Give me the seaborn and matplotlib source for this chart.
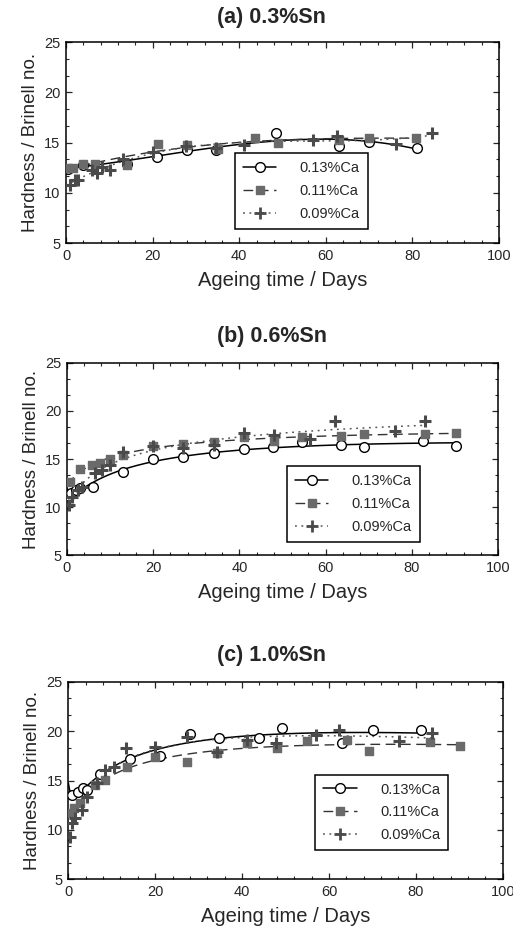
import numpy as np
import pandas as pd
import matplotlib
matplotlib.use("Agg")
import matplotlib.pyplot as plt
from matplotlib.ticker import AutoMinorLocator
import seaborn as sns

# ---- hardness data (Brinell no.) vs ageing time (days) ----
# (a) 0.3% Sn
a_ca13_x = [0.5, 4, 14, 21.1, 28, 34.6, 48.5, 63, 70, 81]
a_ca13_y = [12.4, 12.8, 12.9, 13.6, 14.25, 14.3, 15.9, 14.7, 15.1, 14.5]
a_ca11_x = [0.5, 1.5, 4, 6.7, 14, 21.2, 28, 35, 43.6, 49, 63, 70, 80.8]
a_ca11_y = [12.45, 12.45, 12.85, 12.85, 12.8, 14.85, 14.8, 14.4, 15.5, 15.0, 15.3, 15.5, 15.45]
a_ca09_x = [0.9, 2.1, 2.8, 6, 7.1, 8.2, 10.2, 13.1, 20.1, 27.8, 34.6, 41, 57, 62.5, 76.3, 84.5]
a_ca09_y = [10.8, 11.3, 11.3, 12.3, 11.95, 12.6, 12.3, 13.4, 14.1, 14.7, 14.5, 14.75, 15.3, 15.6, 14.9, 15.9]

# (b) 0.6% Sn
b_ca13_x = [0.5, 1, 2, 3, 6, 13, 19.9, 27, 34, 41, 47.8, 54.5, 63.6, 69, 82.7, 90.2]
b_ca13_y = [11.2, 11.5, 11.8, 12.0, 12.1, 13.6, 15.0, 15.2, 15.6, 16.0, 16.2, 16.8, 16.5, 16.25, 16.85, 16.4]
b_ca11_x = [0.8, 3.1, 5.8, 7.7, 10, 13, 20, 26.9, 34, 41, 48, 54.5, 63.6, 69, 83, 90.2]
b_ca11_y = [12.65, 14.0, 14.4, 14.55, 15.05, 15.4, 16.3, 16.6, 16.8, 17.3, 16.9, 17.3, 17.4, 17.55, 17.55, 17.7]
b_ca09_x = [0.4, 1.2, 2.5, 3.5, 6.6, 8.2, 10, 13.1, 20, 27, 34, 41, 48, 56.4, 62.2, 76.1, 83]
b_ca09_y = [10.2, 11.1, 11.8, 12.1, 13.5, 13.9, 14.4, 15.7, 16.4, 16.1, 16.45, 17.65, 17.5, 17.1, 18.9, 17.95, 18.9]

# (c) 1.0% Sn
c_ca13_x = [0.8, 2.3, 3.3, 4.2, 7.3, 14.2, 21.1, 28, 34.8, 44, 49.1, 62.9, 70.2, 81.1]
c_ca13_y = [13.5, 13.85, 14.25, 14.05, 15.7, 17.2, 17.5, 19.7, 19.35, 19.35, 20.3, 18.75, 20.1, 20.1]
c_ca11_x = [0.4, 1.2, 2.7, 6.1, 8.4, 13.4, 20, 27.4, 34.3, 41.2, 48.1, 54.9, 64.1, 69.3, 83.3, 90.2]
c_ca11_y = [11.7, 12.2, 12.7, 14.55, 15.05, 16.4, 17.4, 16.9, 17.8, 18.75, 18.25, 18.95, 19.1, 18.0, 18.85, 18.5]
c_ca09_x = [0.4, 0.8, 1.5, 3.1, 4.3, 6.5, 8.4, 10.4, 13.3, 20, 27.3, 34.3, 41.2, 47.8, 57, 62.4, 76.2, 83.7]
c_ca09_y = [9.3, 10.7, 11.2, 12.0, 13.3, 14.7, 16.05, 16.4, 18.25, 18.4, 19.4, 17.9, 19.15, 18.75, 19.6, 20.1, 19.05, 19.85]

panel_titles = ["(a) 0.3%Sn", "(b) 0.6%Sn", "(c) 1.0%Sn"]
series_labels = ["0.13%Ca", "0.11%Ca", "0.09%Ca"]
x_ticks = [0, 20, 40, 60, 80, 100]
y_ticks = [5, 10, 15, 20, 25]

panels = [
    [(a_ca13_x, a_ca13_y), (a_ca11_x, a_ca11_y), (a_ca09_x, a_ca09_y)],
    [(b_ca13_x, b_ca13_y), (b_ca11_x, b_ca11_y), (b_ca09_x, b_ca09_y)],
    [(c_ca13_x, c_ca13_y), (c_ca11_x, c_ca11_y), (c_ca09_x, c_ca09_y)],
]

# ---- styling ----
sns.set_style("ticks")
plt.rcParams["font.family"] = ["Liberation Sans", "DejaVu Sans"]

series_style = [
    dict(marker="o", mfc="white", mec="black", ms=7, mew=1.0, lc="black", ls="-", lw=1.1),
    dict(marker="s", mfc="#6a6a6a", mec="#6a6a6a", ms=6, mew=1.0, lc="#333333", ls=(0, (7, 4)), lw=1.0),
    dict(marker="+", mfc="#4a4a4a", mec="#4a4a4a", ms=9, mew=2.2, lc="#555555", ls=(0, (1.2, 3)), lw=1.1),
]

axes_rects = [
    [0.1287, 0.7409, 0.8440, 0.2143],
    [0.1306, 0.4080, 0.8402, 0.2053],
    [0.1332, 0.0626, 0.8467, 0.2106],
]
title_y = [1 - 17 / 938, 1 - 336.7 / 938, 1 - 655 / 938]
legend_anchor = [(0.39, 0.07), (0.51, 0.07), (0.568, 0.148)]
fit_space = ["lin", "log", "log"]

fig = plt.figure(figsize=(5.13, 9.38), dpi=100)


def smooth_fit(x, y, space):
    x = np.asarray(x, float)
    y = np.asarray(y, float)
    if space == "lin":
        coef = np.polyfit(x, y, 3)
        xs = np.linspace(0, x.max(), 200)
        return xs, np.polyval(coef, xs)
    u = np.log1p(x)
    coef = np.polyfit(u, y, 3)
    xs = np.linspace(0, x.max(), 300)
    return xs, np.polyval(coef, np.log1p(xs))


for i, (rect, data) in enumerate(zip(axes_rects, panels)):
    ax = fig.add_axes(rect)
    handles = []
    for (x, y), label, st in zip(data, series_labels, series_style):
        xs, ys = smooth_fit(x, y, fit_space[i])
        fit_df = pd.DataFrame({"x": xs, "y": ys})
        sns.lineplot(data=fit_df, x="x", y="y", ax=ax, color=st["lc"],
                     linewidth=st["lw"], linestyle=st["ls"], zorder=2)
        pts = pd.DataFrame({"x": x, "y": y})
        if st["marker"] == "+":
            sns.scatterplot(data=pts, x="x", y="y", ax=ax, marker="+",
                            s=st["ms"] ** 2, color=st["mec"],
                            linewidth=st["mew"], zorder=3)
        else:
            sns.scatterplot(data=pts, x="x", y="y", ax=ax, marker=st["marker"],
                            s=st["ms"] ** 2, facecolor=st["mfc"],
                            edgecolor=st["mec"], linewidth=st["mew"], zorder=3)
        h, = ax.plot([], [], color=st["lc"], linestyle=st["ls"], lw=st["lw"],
                     marker=st["marker"], ms=st["ms"], mfc=st["mfc"],
                     mec=st["mec"], mew=st["mew"] if st["marker"] != "+" else 2.0)
        handles.append(h)

    ax.set_xlim(0, 100)
    ax.set_ylim(5, 25)
    ax.set_xticks(x_ticks)
    ax.set_yticks(y_ticks)
    ax.xaxis.set_minor_locator(AutoMinorLocator(5))
    ax.yaxis.set_minor_locator(AutoMinorLocator(3))
    ax.tick_params(which="both", direction="in", top=True, right=True,
                   labelsize=10.5, pad=4)
    ax.tick_params(which="major", length=4, width=0.9)
    ax.tick_params(which="minor", length=2.5, width=0.8)
    for sp in ax.spines.values():
        sp.set_linewidth(1.1)
        sp.set_color("black")
    ax.set_xlabel("Ageing time / Days", fontsize=14.5, labelpad=6)
    ax.set_ylabel("Hardness / Brinell no.", fontsize=13.5, labelpad=4)

    leg = ax.legend(handles, series_labels, loc="lower left",
                    bbox_to_anchor=legend_anchor[i], fontsize=10.5,
                    frameon=True, fancybox=False, edgecolor="black",
                    framealpha=1, handlelength=2.3, handletextpad=1.6,
                    labelspacing=0.6, borderpad=0.55, borderaxespad=0)
    leg.get_frame().set_linewidth(1.1)

    fig.text(0.5 + 0.03, title_y[i], panel_titles[i], ha="center", va="center",
             fontsize=15.5, fontweight="bold")

fig.savefig("out.png", dpi=100, facecolor="white")
